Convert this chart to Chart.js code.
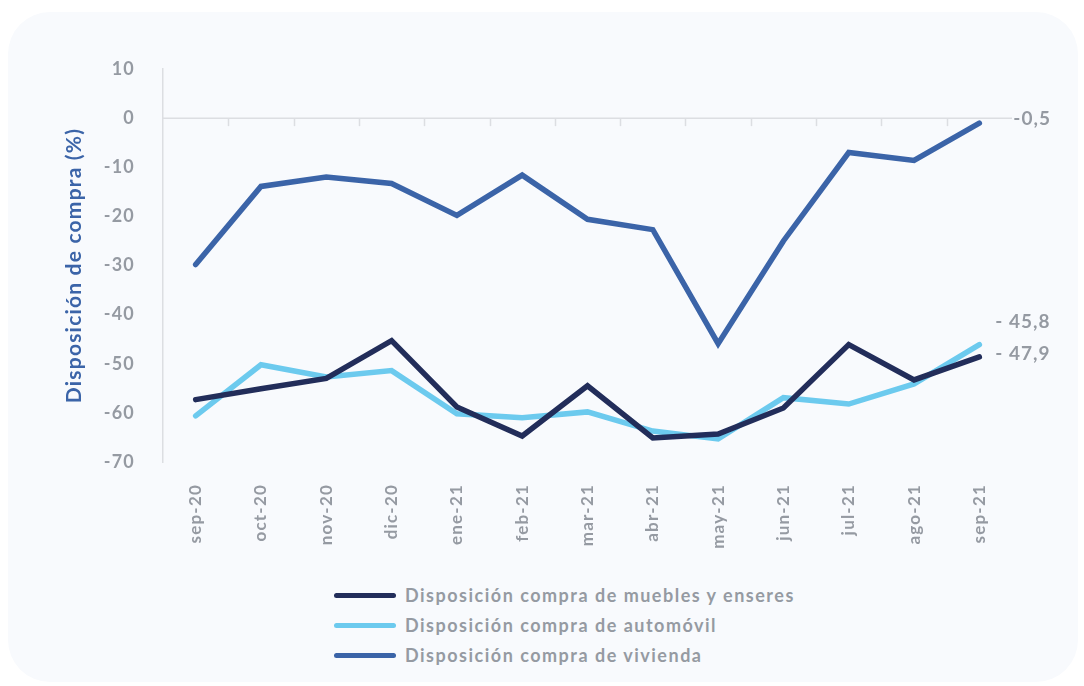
<!DOCTYPE html>
<html lang="es">
<head>
  <meta charset="UTF-8" />
  <title>Disposición de compra</title>
  <script src="https://cdn.jsdelivr.net/npm/chart.js@4.4.0/dist/chart.umd.min.js"></script>
  <style>
    html, body { margin: 0; padding: 0; background: #fff; }
    body { width: 1084px; height: 686px; position: relative; overflow: hidden; font-family: 'Lato', sans-serif; }
    .card {
      position: absolute; left: 8px; top: 12px; width: 1070px; height: 670px;
      background: #f8fafd; border-radius: 42px;
    }
    .chart-wrap { position: absolute; left: 0; top: 0; width: 1084px; height: 560px; }
    #legend { position: absolute; left: 334px; top: 580px; }
    .leg-row { display: flex; align-items: center; height: 30px; }
    .leg-line { width: 62px; height: 5px; border-radius: 3px; margin-right: 9px; }
    .leg-text { color: #959aa2; font-weight: 700; font-size: 18px; letter-spacing: 1.5px; }
  </style>
</head>
<body>
<div class="card"></div>
<div class="chart-wrap"><canvas id="chart" width="1084" height="560"></canvas></div>
<div id="legend"></div>

<script>
const months = ['sep-20', 'oct-20', 'nov-20', 'dic-20', 'ene-21', 'feb-21', 'mar-21',
                'abr-21', 'may-21', 'jun-21', 'jul-21', 'ago-21', 'sep-21'];
const muebles = [-57.3, -55.1, -53, -45.3, -58.8, -64.7, -54.5, -65.1, -64.3, -59, -46.1, -53.3, -48.6];
const automovil = [-60.6, -50.2, -52.7, -51.4, -60.2, -61, -59.8, -63.7, -65.3, -56.9, -58.2, -54.1, -46.1];
const vivienda = [-29.8, -13.9, -12, -13.3, -19.8, -11.6, -20.6, -22.7, -45.9, -25, -7, -8.6, -1.0];
const lastLabels = ['- 47,9', '- 45,8', '-0,5'];
const seriesNames = ['Disposición compra de muebles y enseres', 'Disposición compra de automóvil', 'Disposición compra de vivienda'];
const seriesColors = ['#222d5a', '#6ccaee', '#3b64a8'];

const gray = '#959aa2';

// the original uses spaced-out letters everywhere
const spacing = {
  id: 'spacing',
  beforeDraw(chart) { chart.ctx.letterSpacing = '1.2px'; }
};

// text next to the last point of each series
const endLabels = {
  id: 'endLabels',
  afterDatasetsDraw(chart) {
    const ctx = chart.ctx;
    const offsets = [[16, -3], [16, -23], [34, -4]];
    ctx.save();
    ctx.font = 'bold 19px Lato';
    ctx.letterSpacing = '1px';
    ctx.fillStyle = gray;
    ctx.textBaseline = 'middle';
    chart.data.datasets.forEach((ds, i) => {
      const pts = chart.getDatasetMeta(i).data;
      const p = pts[pts.length - 1];
      ctx.fillText(lastLabels[i], p.x + offsets[i][0], p.y + offsets[i][1]);
    });
    ctx.restore();
  }
};

// little tick marks under the zero line, between categories
const zeroTicks = {
  id: 'zeroTicks',
  beforeDatasetsDraw(chart) {
    const { ctx, scales: { x, y } } = chart;
    const y0 = y.getPixelForValue(0);
    const step = x.getPixelForValue(1) - x.getPixelForValue(0);
    ctx.save();
    ctx.strokeStyle = '#dcdee2';
    ctx.lineWidth = 1.5;
    for (let i = 0; i < months.length - 1; i++) {
      const px = Math.round(x.getPixelForValue(i) + step / 2) + 0.5;
      ctx.beginPath();
      ctx.moveTo(px, y0);
      ctx.lineTo(px, y0 + 8);
      ctx.stroke();
    }
    ctx.beginPath();
    ctx.moveTo(chart.chartArea.left, y0);
    ctx.lineTo(chart.chartArea.right, y0);
    ctx.stroke();
    ctx.restore();
  }
};

const chart = new Chart(document.getElementById('chart'), {
  type: 'line',
  data: {
    labels: months,
    datasets: [
      { label: seriesNames[0], data: muebles, borderColor: seriesColors[0] },
      { label: seriesNames[1], data: automovil, borderColor: seriesColors[1] },
      { label: seriesNames[2], data: vivienda, borderColor: seriesColors[2] }
    ]
  },
  options: {
    responsive: false,
    animation: false,
    devicePixelRatio: 1,
    elements: {
      line: { borderWidth: 5.5, tension: 0, borderCapStyle: 'round', borderJoinStyle: 'miter' },
      point: { radius: 0 }
    },
    layout: { padding: { left: 62, right: 72, top: 69, bottom: 0 } },
    plugins: {
      legend: { display: false },
      tooltip: { enabled: false }
    },
    scales: {
      x: {
        offset: true,
        grid: { display: false },
        border: { display: false },
        ticks: {
          color: gray, font: { family: 'Lato', size: 17, weight: 'bold' },
          maxRotation: 90, minRotation: 90, padding: 14
        },
        afterFit(scale) { scale.height = 98; }
      },
      y: {
        min: -70, max: 10,
        grid: { display: false },
        border: { display: true, color: '#dcdee2', width: 1.5 },
        ticks: {
          stepSize: 10, color: gray, padding: 20,
          font: { family: 'Lato', size: 18, weight: 'bold' }
        },
        title: {
          display: true, text: 'Disposición de compra (%)', color: '#3b64a8',
          font: { family: 'Lato', size: 21, weight: 'bold' }, padding: 0
        },
        afterFit(scale) { scale.width = 101; }
      }
    }
  },
  plugins: [spacing, zeroTicks, endLabels]
});

// legend as a vertical list, built from the chart datasets
const legend = document.getElementById('legend');
chart.data.datasets.forEach(ds => {
  const row = document.createElement('div');
  row.className = 'leg-row';
  row.innerHTML = `<span class="leg-line" style="background:${ds.borderColor}"></span><span class="leg-text">${ds.label}</span>`;
  legend.appendChild(row);
});
</script>
</body>
</html>
